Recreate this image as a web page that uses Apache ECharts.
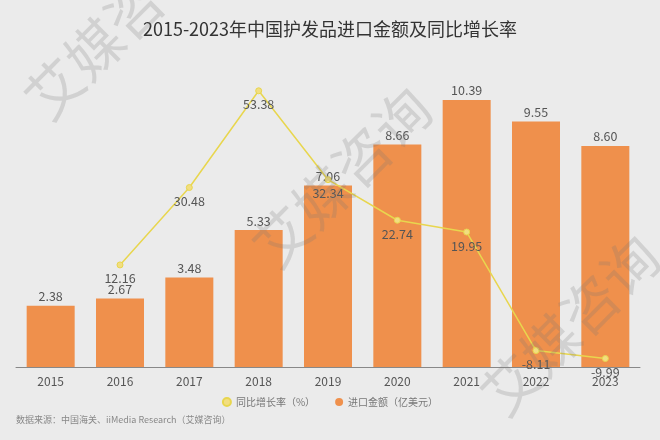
<!DOCTYPE html>
<html><head><meta charset="utf-8">
<script src="https://cdn.jsdelivr.net/npm/echarts@6/dist/echarts.min.js"></script>
<style>html,body{margin:0;padding:0;background:#ebebeb;}#c{width:660px;height:440px;}</style>
</head><body><div id="c"></div>
<script>
const years = ['2015','2016','2017','2018','2019','2020','2021','2022','2023'];
const importValue = [2.38, 2.67, 3.48, 5.33, 7.06, 8.66, 10.39, 9.55, 8.60];
const growthRate = [null, 12.16, 30.48, 53.38, 32.34, 22.74, 19.95, -8.11, -9.99];
const titleText = '2015-2023年中国护发品进口金额及同比增长率';
const sourceText = '数据来源：中国海关、iiMedia Research（艾媒咨询）';
const watermark = '艾媒咨询';

const font = '"Noto Sans CJK SC", "Noto Sans", sans-serif';
const chart = echarts.init(document.getElementById('c'));
const wm = (x, y, size) => ({
  type: 'text', x: x, y: y, rotation: Math.PI / 4, silent: true, z: 100,
  style: { text: watermark, font: size + 'px ' + font, fill: 'rgba(120,120,120,0.22)', align: 'center', verticalAlign: 'middle' }
});
chart.setOption({
  backgroundColor: '#ebebeb',
  textStyle: { fontFamily: font },
  title: { text: titleText, left: 'center', top: 15, textStyle: { fontSize: 18, fontWeight: 'normal', color: '#333', fontFamily: font } },
  legend: {
    top: 392, left: 'center', itemWidth: 8, itemHeight: 8, itemGap: 20,
    textStyle: { fontSize: 10, color: '#777', fontFamily: font },
    data: [{ name: '同比增长率（%）', icon: 'circle' }, { name: '进口金额（亿美元）', icon: 'circle' }]
  },
  grid: { left: 16, right: 20, top: 58.6, bottom: 73 },
  xAxis: {
    type: 'category', data: years,
    axisLine: { lineStyle: { color: '#888' } },
    axisTick: { alignWithLabel: true, length: 4, lineStyle: { color: '#888' } },
    axisLabel: { fontSize: 12, color: '#555', margin: 8, fontFamily: font }
  },
  yAxis: [
    { type: 'value', min: 0, max: 12, show: false, splitLine: { show: false } },
    { type: 'value', min: -12, max: 61, show: false, splitLine: { show: false } }
  ],
  series: [
    {
      name: '进口金额（亿美元）', type: 'bar', data: importValue, barWidth: 48,
      itemStyle: { color: '#ef904c' },
      label: { show: true, position: 'top', distance: 3, fontSize: 12.5, color: '#555', fontFamily: font, formatter: p => p.value.toFixed(2) }
    },
    {
      name: '同比增长率（%）', type: 'line', yAxisIndex: 1, data: growthRate,
      symbol: 'circle', symbolSize: 6, z: 3,
      lineStyle: { color: '#e8d64e', width: 1.5 },
      itemStyle: { color: '#f2de80', borderColor: '#e8d64e', borderWidth: 1 },
      label: { show: true, position: 'bottom', distance: 4, fontSize: 12.5, color: '#555', fontFamily: font, formatter: p => p.value.toFixed(2) }
    }
  ],
  color: ['#e8d64e', '#ef904c'],
  graphic: [
    { type: 'text', left: 16, top: 415, style: { text: sourceText, font: '9px ' + font, fill: '#888' } },
    wm(114, 29, 56), wm(342, 177, 56), wm(570, 325, 56)
  ]
});
</script></body></html>
